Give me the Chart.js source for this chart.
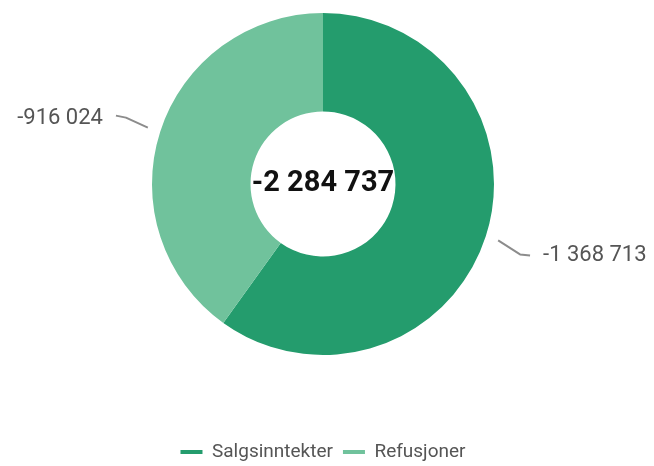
<!DOCTYPE html>
<html>
<head>
<meta charset="utf-8">
<script src="https://cdn.jsdelivr.net/npm/chart.js@4/dist/chart.umd.min.js"></script>
<style>
  html, body { margin: 0; padding: 0; background: #ffffff; }
  #wrap { width: 654px; height: 466px; position: relative; }
</style>
</head>
<body>
<div id="wrap"><canvas id="c" width="654" height="466"></canvas></div>
<script>
const categories = ['Salgsinntekter', 'Refusjoner'];
const values = [-1368713, -916024];
const colors = ['#249c6d', '#70c29c'];

function fmt(n) {
  const s = Math.abs(Math.round(n)).toString().replace(/\B(?=(\d{3})+(?!\d))/g, ' ');
  return (n < 0 ? '-' : '') + s;
}
const total = values.reduce((a, b) => a + b, 0);

const FONT = 'Roboto, "Liberation Sans", Arial, sans-serif';

const centerText = {
  id: 'centerText',
  afterDatasetsDraw(chart) {
    const arc = chart.getDatasetMeta(0).data[0];
    if (!arc) return;
    const { x, y } = arc.getProps(['x', 'y'], true);
    const ctx = chart.ctx;
    ctx.save();
    ctx.font = 'bold 29px ' + FONT;
    ctx.fillStyle = '#111111';
    ctx.textAlign = 'center';
    ctx.textBaseline = 'middle';
    ctx.fillText(fmt(total), x, y);
    ctx.restore();
  }
};

const outerLabels = {
  id: 'outerLabels',
  afterDatasetsDraw(chart) {
    const ctx = chart.ctx;
    const meta = chart.getDatasetMeta(0);
    meta.data.forEach((arc, i) => {
      const p = arc.getProps(['x', 'y', 'startAngle', 'endAngle', 'outerRadius'], true);
      const mid = (p.startAngle + p.endAngle) / 2;
      const dx = Math.cos(mid), dy = Math.sin(mid);
      const side = dx >= 0 ? 1 : -1;
      const vs = dy >= 0 ? 1 : -1;
      const x1 = p.x + dx * (p.outerRadius + 13), y1 = p.y + dy * (p.outerRadius + 13);
      const x2 = p.x + dx * (p.outerRadius + 36), y2 = p.y + dy * (p.outerRadius + 36) + (vs > 0 ? 7 : -3);
      const x3 = x2 + side * 10, y3 = y2 + (vs < 0 ? -2 : 1);
      ctx.save();
      ctx.strokeStyle = '#8c8c8c';
      ctx.lineWidth = 2;
      ctx.lineJoin = 'round';
      ctx.beginPath();
      ctx.moveTo(x1, y1);
      ctx.lineTo(x2, y2);
      ctx.lineTo(x3, y3);
      ctx.stroke();
      ctx.font = '22px ' + FONT;
      ctx.fillStyle = '#555555';
      ctx.textBaseline = 'middle';
      ctx.textAlign = side > 0 ? 'left' : 'right';
      ctx.fillText(fmt(values[i]), x3 + side * 13, y3 + (vs < 0 ? 3 : 0));
      ctx.restore();
    });
  }
};

new Chart(document.getElementById('c'), {
  type: 'doughnut',
  data: {
    labels: categories,
    datasets: [{
      data: values,
      backgroundColor: colors,
      borderWidth: 0,
      hoverOffset: 0,
      offset: 0
    }]
  },
  options: {
    responsive: false,
    animation: false,
    cutout: '42.4%',
    layout: { padding: { top: 13, left: 0, right: 8, bottom: -5.5 } },
    plugins: {
      tooltip: { enabled: false },
      title: {
        display: true,
        position: 'bottom',
        text: '',
        font: { size: 1, lineHeight: 1 },
        padding: { top: 76.5, bottom: 0 }
      },
      legend: {
        position: 'bottom',
        weight: 3000,
        labels: {
          usePointStyle: true,
          pointStyleWidth: 22,
          padding: 10,
          color: '#555555',
          font: { family: FONT, size: 19 },
          generateLabels(chart) {
            return categories.map((c, i) => ({
              text: c,
              fillStyle: colors[i],
              strokeStyle: colors[i],
              lineWidth: 4,
              pointStyle: 'line',
              fontColor: '#555555',
              hidden: false,
              index: i
            }));
          }
        }
      }
    }
  },
  plugins: [centerText, outerLabels]
});
</script>
</body>
</html>
